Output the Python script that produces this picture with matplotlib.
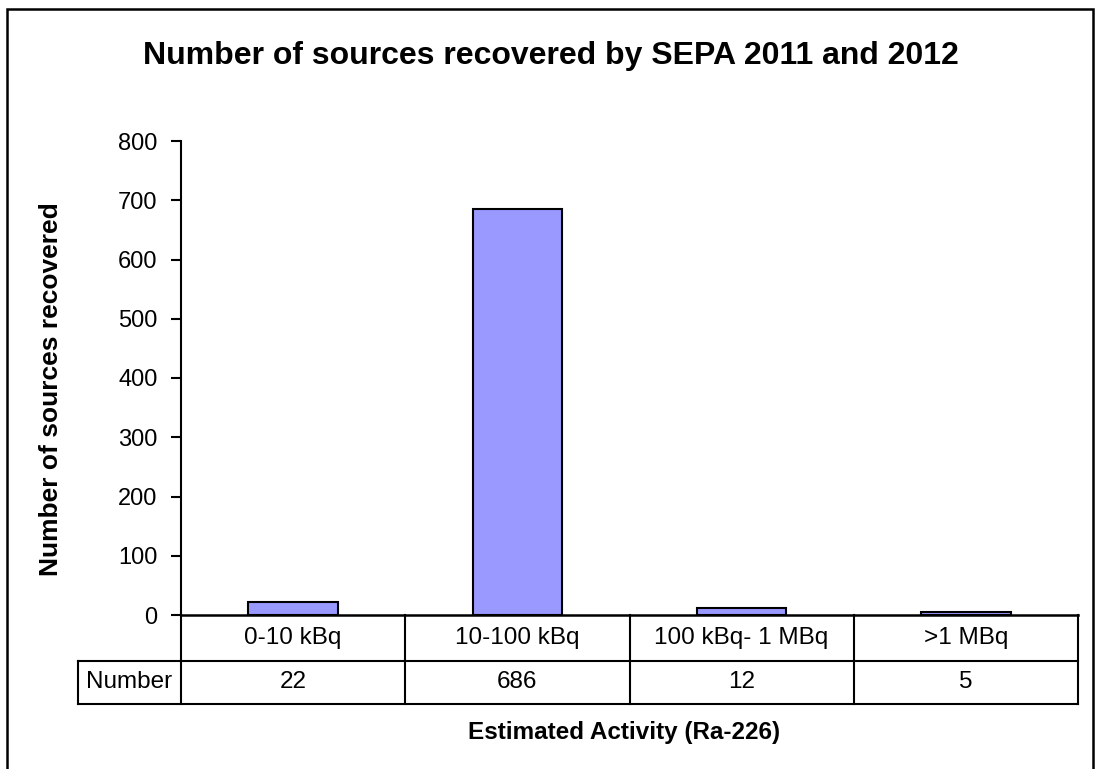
import matplotlib
matplotlib.use("Agg")
import matplotlib.pyplot as plt
import matplotlib.transforms as mtransforms
from matplotlib.patches import Rectangle

# Chart data
categories = ["0-10 kBq", "10-100 kBq", "100 kBq- 1 MBq", ">1 MBq"]
numbers = [22, 686, 12, 5]
yticks = [0, 100, 200, 300, 400, 500, 600, 700, 800]
row_label = "Number"

plt.rcParams['font.family'] = ['Liberation Sans', 'DejaVu Sans']

W, H = 1098, 769
fig = plt.figure(figsize=(W / 100, H / 100), dpi=100)

# Plot area in pixel terms of the reference
left_px, right_px, top_px, zero_px = 181, 1078, 141, 615
ax = fig.add_axes([left_px / W, 1 - zero_px / H,
                   (right_px - left_px) / W, (zero_px - top_px) / H])

x = list(range(len(categories)))
ax.bar(x, numbers, width=0.4, color="#9999FF", edgecolor="black", linewidth=1.5, zorder=3)

ax.set_xlim(-0.5, len(categories) - 0.5)
ax.set_ylim(0, 800)
ax.set_yticks(yticks)
ax.set_yticklabels([str(t) for t in yticks], fontsize=17)
ax.tick_params(axis='y', direction='out', length=7, width=1.5, pad=10)
ax.set_xticks([])

for side in ['top', 'right']:
    ax.spines[side].set_visible(False)
ax.spines['left'].set_linewidth(1.5)
ax.spines['bottom'].set_linewidth(1.8)

# Data table under the plot (x in data units, y in axes fraction)
trans = mtransforms.blended_transform_factory(ax.transData, ax.transAxes)
row1 = -46 / (zero_px - top_px)
row2 = -89 / (zero_px - top_px)
label_left = -0.5 - (left_px - 78) / ((right_px - left_px) / len(categories))
lw = 1.5
xmax = len(categories) - 0.5

ax.plot([label_left, xmax], [row1, row1], color='black', lw=lw, transform=trans, clip_on=False)
ax.plot([label_left, xmax], [row2, row2], color='black', lw=lw, transform=trans, clip_on=False)
ax.plot([label_left, label_left], [row1, row2], color='black', lw=lw, transform=trans, clip_on=False)
for i in range(len(categories) + 1):
    xv = i - 0.5
    ax.plot([xv, xv], [0, row2], color='black', lw=lw, transform=trans, clip_on=False)

for i, (cat, num) in enumerate(zip(categories, numbers)):
    ax.text(i, row1 / 2, cat, ha='center', va='center', fontsize=17.5,
            transform=trans, clip_on=False)
    ax.text(i, (row1 + row2) / 2, str(num), ha='center', va='center', fontsize=17.5,
            transform=trans, clip_on=False)
ax.text((label_left - 0.5) / 2, (row1 + row2) / 2, row_label, ha='center', va='center',
        fontsize=17.5, transform=trans, clip_on=False)

# Axis labels and title
ax.set_ylabel("Number of sources recovered", fontsize=19, fontweight='bold')
ax.yaxis.set_label_coords((63 - left_px) / (right_px - left_px),
                          (zero_px - 389) / (zero_px - top_px))
ax.text((624 - left_px) / (right_px - left_px), (zero_px - 733) / (zero_px - top_px),
        "Estimated Activity (Ra-226)", ha='center', va='center', fontsize=17.5,
        fontweight='bold', transform=ax.transAxes)
fig.text(551 / W, 1 - 56 / H, "Number of sources recovered by SEPA 2011 and 2012",
         ha='center', va='center', fontsize=23, fontweight='bold')

# Outer chart border (bottom edge runs off the image)
fig.patches.append(Rectangle((7 / W, -0.05), (1093 - 7) / W, 1.05 - 9 / H,
                             transform=fig.transFigure, fill=False,
                             edgecolor='black', linewidth=1.8))

fig.savefig("out.png", dpi=100)
